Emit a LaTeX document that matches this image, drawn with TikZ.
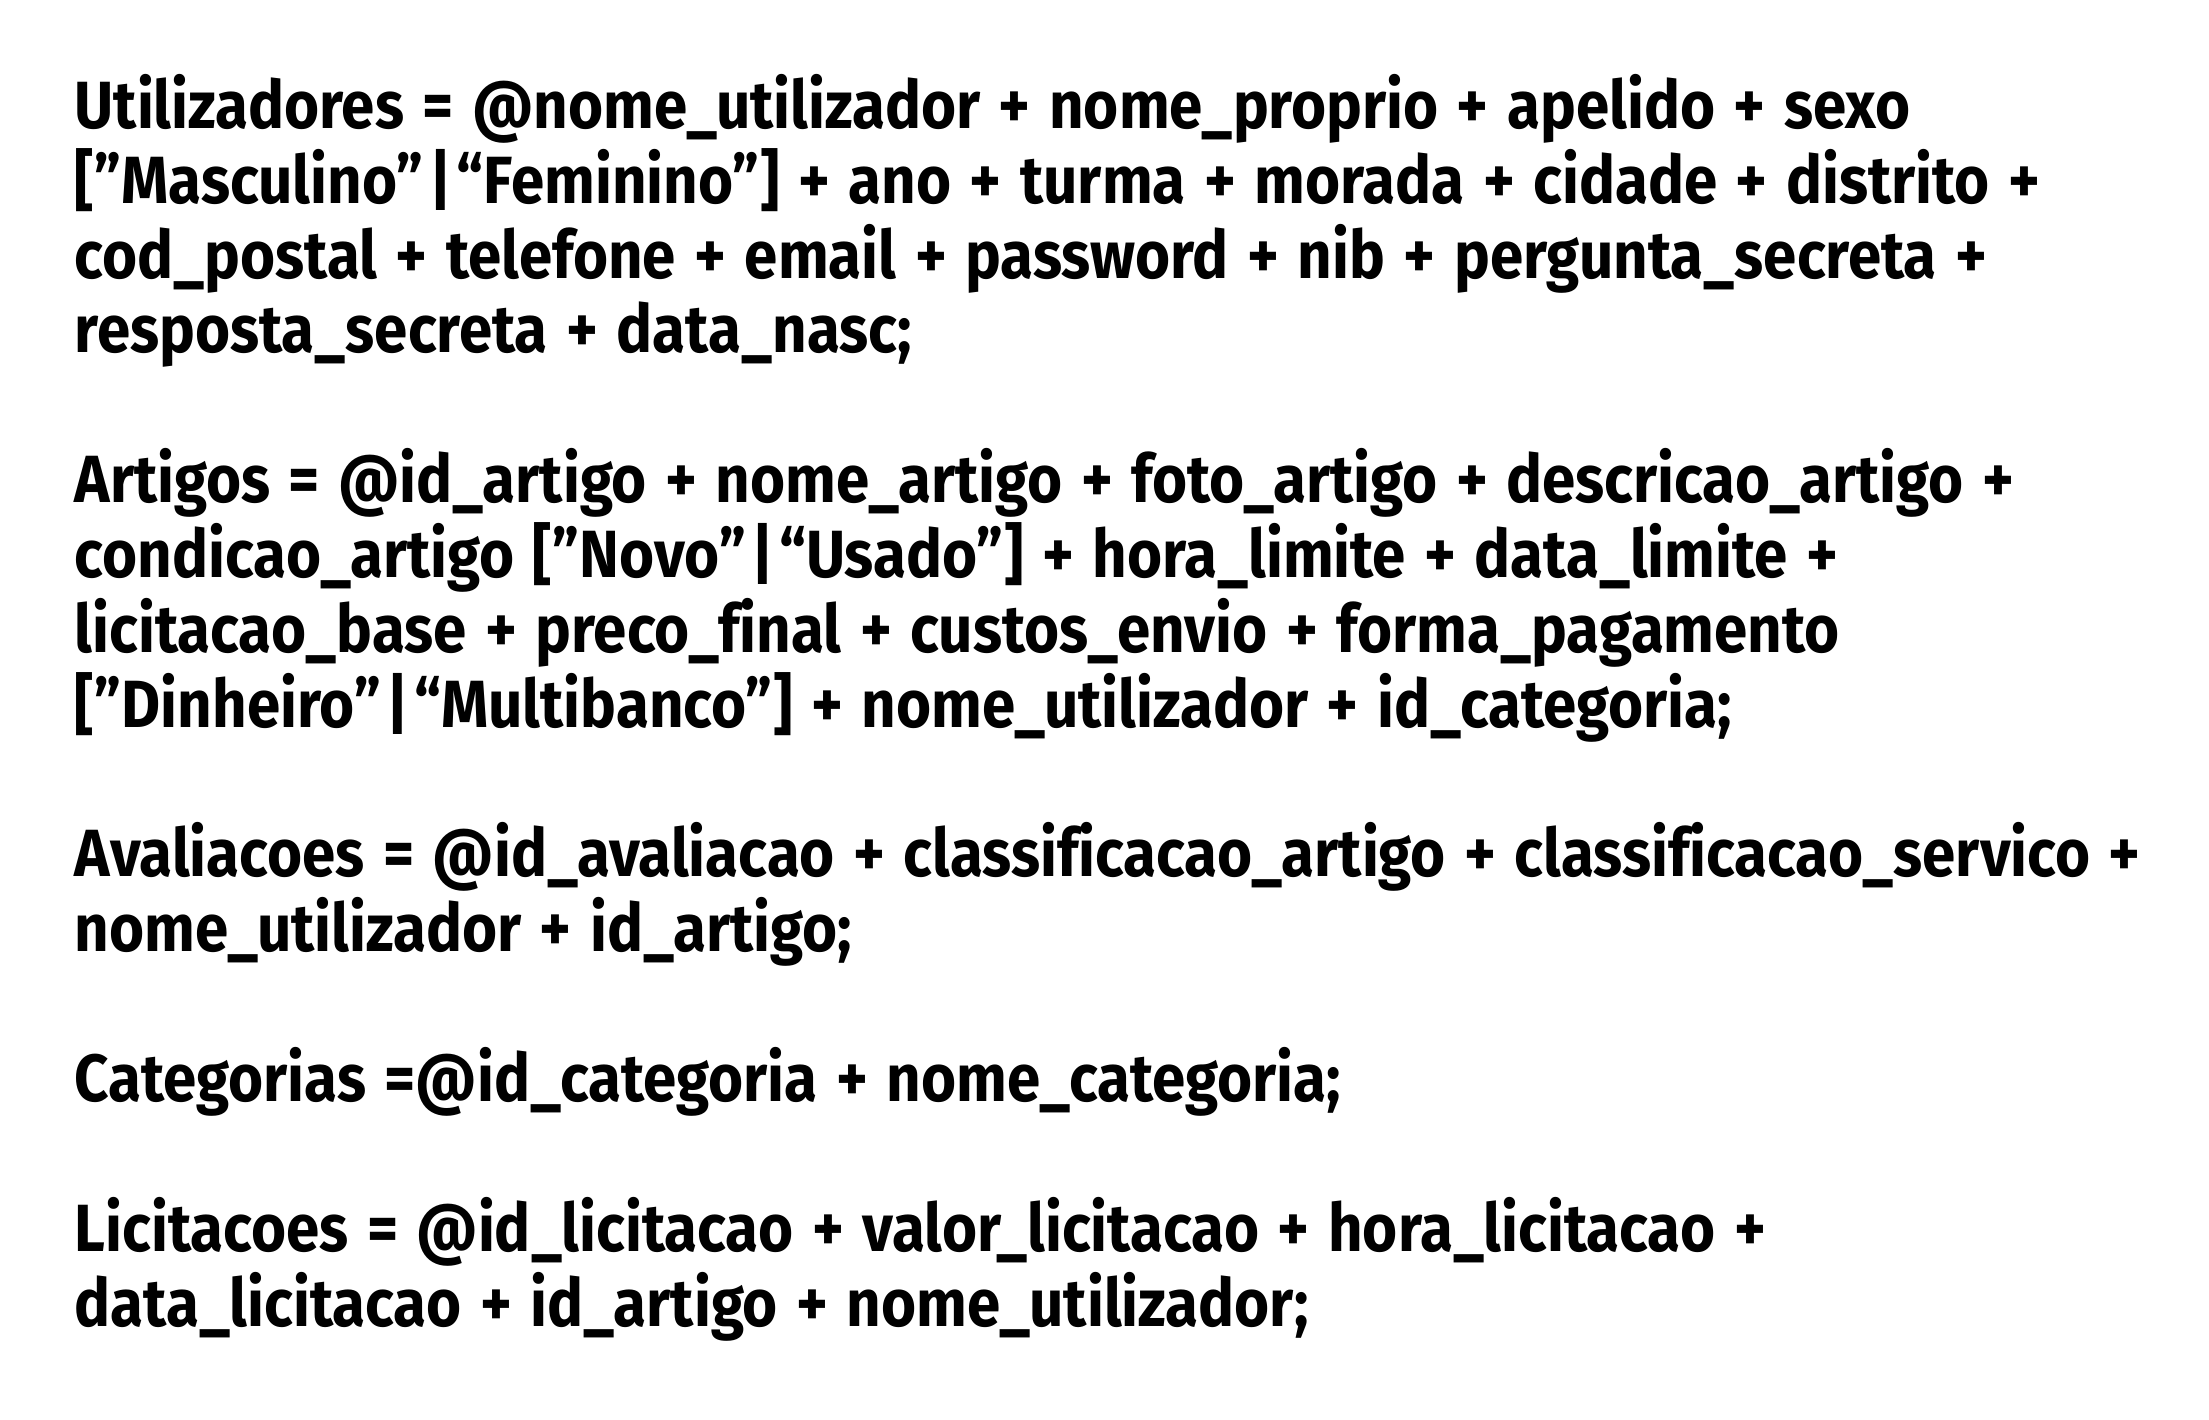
\documentclass[tikz,border=0pt]{standalone}
\usepackage{fontspec}
\setmainfont[FakeStretch=0.9,WordSpace=1.3,Ligatures=NoCommon]{Fira Sans}
\usepackage{tikz}
\newcommand{\alt}{\hspace{0.08em}|\hspace{0.08em}}

\begin{document}
\begin{tikzpicture}[x=0.1mm,y=-0.1mm,
	line/.style={anchor=base west,inner sep=0pt,font=\bfseries\fontsize{19}{19}\selectfont}]
	\useasboundingbox (0,0) rectangle (2209,1420);
	% Utilizadores
	\node[line] (u1) at (74,129) {Utilizadores = @nome\_utilizador + nome\_proprio + apelido + sexo};
	\node[line] (u2) at (74,204) {[”Masculino”\alt“Feminino”] + ano + turma + morada + cidade + distrito +};
	\node[line] (u3) at (74,279) {cod\_postal + telefone + email + password + nib + pergunta\_secreta +};
	\node[line] (u4) at (74,353) {resposta\_secreta + data\_nasc;};
	% Artigos
	\node[line] (a1) at (74,503) {Artigos = @id\_artigo + nome\_artigo + foto\_artigo + descricao\_artigo +};
	\node[line] (a2) at (74,578) {condicao\_artigo [”Novo”\alt“Usado”] + hora\_limite + data\_limite +};
	\node[line] (a3) at (74,653) {licitacao\_base + preco\_final + custos\_envio + forma\_pagamento};
	\node[line] (a4) at (74,728) {[”Dinheiro”\alt“Multibanco”] + nome\_utilizador + id\_categoria;};
	% Avaliacoes
	\node[line] (v1) at (74,877) {Avaliacoes = @id\_avaliacao + classificacao\_artigo + classificacao\_servico +};
	\node[line] (v2) at (74,952) {nome\_utilizador + id\_artigo;};
	% Categorias
	\node[line] (c1) at (74,1102) {Categorias =@id\_categoria + nome\_categoria;};
	% Licitacoes
	\node[line] (l1) at (74,1251) {Licitacoes = @id\_licitacao + valor\_licitacao + hora\_licitacao +};
	\node[line] (l2) at (74,1326) {data\_licitacao + id\_artigo + nome\_utilizador;};
\end{tikzpicture}
\end{document}
